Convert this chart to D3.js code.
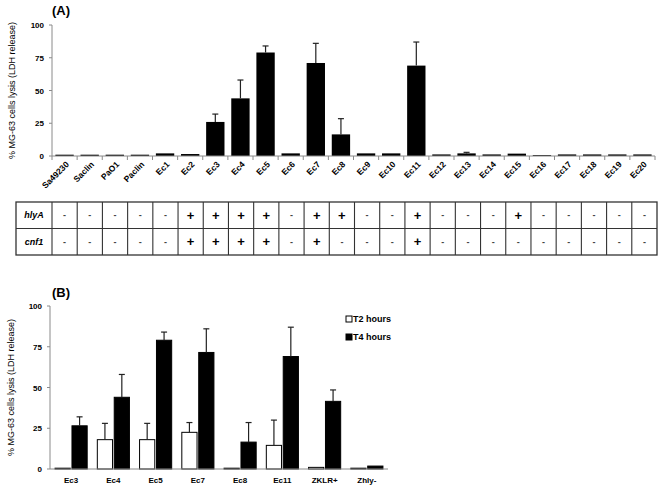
<!DOCTYPE html>
<html>
<head>
    <script src="https://cdnjs.cloudflare.com/ajax/libs/d3/7.8.5/d3.min.js" type="text/javascript"></script>
    <style>
        body { margin: 0; background: #fff; }
        text { font-family: "Liberation Sans", Arial, sans-serif; }
    </style>
</head>
<body>
    <div id="viz"></div>
    <script type="text/javascript">

    // panel A : strains and lysis values
    var strainsA = ["Sa49230", "Saclin", "PaO1", "Paclin", "Ec1", "Ec2", "Ec3", "Ec4", "Ec5", "Ec6",
        "Ec7", "Ec8", "Ec9", "Ec10", "Ec11", "Ec12", "Ec13", "Ec14", "Ec15", "Ec16",
        "Ec17", "Ec18", "Ec19", "Ec20"];
    var lysisA = [1, 1, 1, 1, 2, 1.5, 26, 44, 79, 2,
        71, 16.5, 2, 2, 69, 1.2, 2, 1.2, 1.8, 0.7,
        1.2, 1.2, 1.2, 1.2];
    var errA = [0, 0, 0, 0, 0, 0, 32, 58, 84, 0,
        86, 28.5, 0, 0, 87, 0, 2.8, 0, 0, 0,
        0, 0, 0, 0];

    // gene table under panel A (24 columns as drawn)
    var geneRows = ["hlyA", "cnf1"];
    var hlyA = ["-", "-", "-", "-", "-", "+", "+", "+", "+", "-", "+", "+",
        "-", "-", "+", "-", "-", "-", "+", "-", "-", "-", "-", "-"];
    var cnf1 = ["-", "-", "-", "-", "-", "+", "+", "+", "+", "-", "+", "-",
        "-", "-", "+", "-", "-", "-", "-", "-", "-", "-", "-", "-"];

    // panel B : T2 / T4 hours
    var strainsB = ["Ec3", "Ec4", "Ec5", "Ec7", "Ec8", "Ec11", "ZKLR+", "Zhly-"];
    var seriesB = ["T2 hours", "T4 hours"];
    var t2 = [0.5, 18, 18, 22.5, 0.5, 14.5, 1, 0.5];
    var t2err = [0, 28, 28, 28.5, 0, 30, 0, 0];
    var t4 = [26.5, 44, 79, 71.5, 16.5, 69, 41.5, 1.8];
    var t4err = [32, 58, 84, 86, 28.5, 87, 48.5, 0];

    var yTicks = [0, 25, 50, 75, 100];
    var yTitle = "% MG-63 cells lysis (LDH release)";

    var svg = d3.select("#viz").append("svg")
        .attr("width", 661)
        .attr("height", 491);

    var axisColor = "#8a8a8a";

    function yAxis(g, y, x0) {
        g.append("line")
            .attr("x1", x0).attr("x2", x0)
            .attr("y1", y(100)).attr("y2", y(0))
            .style("stroke", axisColor);
        yTicks.forEach(function(t) {
            g.append("line")
                .attr("x1", x0 - 3).attr("x2", x0)
                .attr("y1", y(t)).attr("y2", y(t))
                .style("stroke", axisColor);
            g.append("text")
                .attr("x", x0 - 8).attr("y", y(t) + 3)
                .attr("text-anchor", "end")
                .style("font-size", "8px").style("font-weight", "bold")
                .text(t);
        });
    }

    function errBar(g, cx, yTop, yVal) {
        g.append("line")
            .attr("x1", cx).attr("x2", cx)
            .attr("y1", yTop).attr("y2", yVal)
            .style("stroke", "#222").style("stroke-width", 1.2);
        g.append("line")
            .attr("x1", cx - 3).attr("x2", cx + 3)
            .attr("y1", yTop).attr("y2", yTop)
            .style("stroke", "#222").style("stroke-width", 1.2);
    }

    // ---------- panel A ----------
    var gA = svg.append("g");
    var xA = d3.scaleBand().domain(strainsA).range([52, 655]).paddingInner(0.27).paddingOuter(0.135);
    var yA = d3.scaleLinear().domain([0, 100]).range([156, 25]);

    gA.append("text").attr("x", 52).attr("y", 15)
        .style("font-size", "13px").style("font-weight", "bold").text("(A)");

    gA.append("text")
        .attr("transform", "translate(15," + yA(50) + ") rotate(-90)")
        .attr("text-anchor", "middle")
        .style("font-size", "9px")
        .text(yTitle);

    yAxis(gA, yA, 52);

    gA.selectAll("rect.bar").data(strainsA).enter().append("rect")
        .attr("class", "bar")
        .attr("x", function(d) { return xA(d); })
        .attr("width", xA.bandwidth())
        .attr("y", function(d, i) { return yA(lysisA[i]); })
        .attr("height", function(d, i) { return yA(0) - yA(lysisA[i]); })
        .style("fill", "#000");

    strainsA.forEach(function(d, i) {
        if (errA[i] > 0) errBar(gA, xA(d) + xA.bandwidth() / 2, yA(errA[i]), yA(lysisA[i]));
    });

    // x axis A with ticks between categories
    gA.append("line").attr("x1", 52).attr("x2", 655).attr("y1", yA(0)).attr("y2", yA(0))
        .style("stroke", axisColor);
    d3.range(strainsA.length + 1).forEach(function(i) {
        var tx = 52 + i * xA.step();
        gA.append("line").attr("x1", tx).attr("x2", tx).attr("y1", yA(0)).attr("y2", yA(0) + 4)
            .style("stroke", axisColor);
    });
    gA.selectAll("text.xl").data(strainsA).enter().append("text")
        .attr("class", "xl")
        .attr("transform", function(d) {
            return "translate(" + (xA(d) + xA.bandwidth() / 2 + 5) + "," + (yA(0) + 9) + ") rotate(-45)";
        })
        .attr("text-anchor", "end")
        .style("font-size", "8.5px").style("font-weight", "bold")
        .text(function(d) { return d; });

    // gene table
    var tLeft = 16, tStart = 52, tEnd = 657, tTop = 202, rowH = 26.5;
    var xT = d3.scaleBand().domain(d3.range(hlyA.length)).range([tStart, tEnd]);
    var rowsData = [hlyA, cnf1];
    var gT = svg.append("g");
    gT.append("rect").attr("x", tLeft).attr("y", tTop)
        .attr("width", tEnd - tLeft).attr("height", rowH * 2)
        .style("fill", "none").style("stroke", "#333").style("stroke-width", 1.3);
    gT.append("line").attr("x1", tLeft).attr("x2", tEnd).attr("y1", tTop + rowH).attr("y2", tTop + rowH)
        .style("stroke", "#333").style("stroke-width", 1.1);
    d3.range(hlyA.length).forEach(function(i) {
        gT.append("line").attr("x1", xT(i)).attr("x2", xT(i)).attr("y1", tTop).attr("y2", tTop + rowH * 2)
            .style("stroke", "#333").style("stroke-width", 1.1);
    });
    geneRows.forEach(function(name, r) {
        var cy = tTop + rowH * r + rowH / 2;
        gT.append("text").attr("x", (tLeft + tStart) / 2).attr("y", cy + 3)
            .attr("text-anchor", "middle")
            .style("font-size", "9px").style("font-weight", "bold").style("font-style", "italic")
            .text(name);
        rowsData[r].forEach(function(s, i) {
            gT.append("text").attr("x", xT(i) + xT.bandwidth() / 2)
                .attr("y", s === "+" ? cy + 4.5 : cy + 3)
                .attr("text-anchor", "middle")
                .style("font-size", s === "+" ? "13px" : "9px")
                .style("font-weight", "bold")
                .style("fill", s === "+" ? "#000" : "#444")
                .text(s);
        });
    });

    // ---------- panel B ----------
    var gB = svg.append("g");
    var xB = d3.scaleBand().domain(strainsB).range([50, 388]).paddingInner(0.24).paddingOuter(0.12);
    var xS = d3.scaleBand().domain(seriesB).range([0, xB.bandwidth()]).paddingInner(0.1);
    var yB = d3.scaleLinear().domain([0, 100]).range([469, 306]);

    gB.append("text").attr("x", 52).attr("y", 297)
        .style("font-size", "13px").style("font-weight", "bold").text("(B)");

    gB.append("text")
        .attr("transform", "translate(14," + yB(50) + ") rotate(-90)")
        .attr("text-anchor", "middle")
        .style("font-size", "9px")
        .text(yTitle);

    yAxis(gB, yB, 50);

    var valsB = [t2, t4], errsB = [t2err, t4err];
    seriesB.forEach(function(s, k) {
        gB.selectAll("rect.s" + k).data(strainsB).enter().append("rect")
            .attr("class", "s" + k)
            .attr("x", function(d) { return xB(d) + xS(s); })
            .attr("width", xS.bandwidth())
            .attr("y", function(d, i) { return yB(valsB[k][i]); })
            .attr("height", function(d, i) { return yB(0) - yB(valsB[k][i]); })
            .style("fill", k === 0 ? "#fff" : "#000")
            .style("stroke", "#000").style("stroke-width", 1);
        strainsB.forEach(function(d, i) {
            if (errsB[k][i] > 0) errBar(gB, xB(d) + xS(s) + xS.bandwidth() / 2, yB(errsB[k][i]), yB(valsB[k][i]));
        });
    });

    gB.append("line").attr("x1", 50).attr("x2", 388).attr("y1", yB(0)).attr("y2", yB(0))
        .style("stroke", axisColor);
    gB.selectAll("text.xl").data(strainsB).enter().append("text")
        .attr("class", "xl")
        .attr("x", function(d) { return xB(d) + xB.bandwidth() / 2; })
        .attr("y", yB(0) + 14)
        .attr("text-anchor", "middle")
        .style("font-size", "8px").style("font-weight", "bold")
        .text(function(d) { return d; });

    // legend
    seriesB.forEach(function(s, k) {
        var ly = 316 + k * 18;
        gB.append("rect").attr("x", 346).attr("y", ly).attr("width", 6).attr("height", 6)
            .style("fill", k === 0 ? "#fff" : "#000").style("stroke", "#000");
        gB.append("text").attr("x", 353).attr("y", ly + 6)
            .style("font-size", "9px").style("font-weight", "bold")
            .text(s);
    });

    </script>
</body>
</html>
